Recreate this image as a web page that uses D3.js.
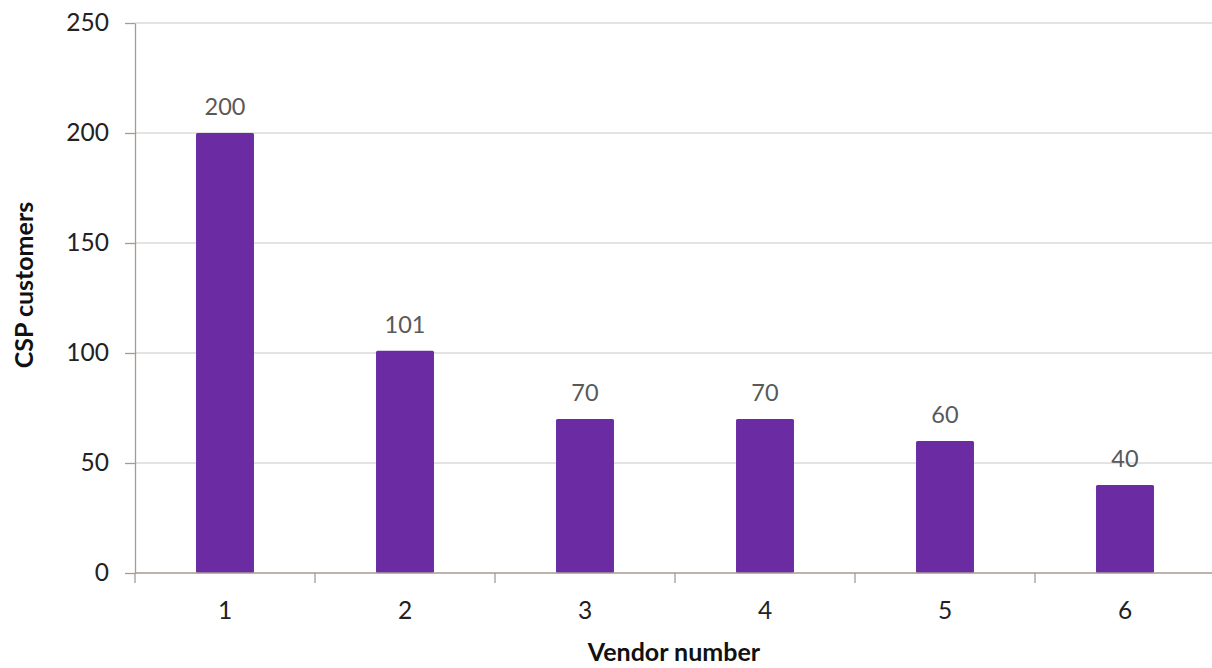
<!DOCTYPE html>
<html>
<head>
<meta charset="utf-8">
<script src="https://cdn.jsdelivr.net/npm/d3@7"></script>
<style>
  html, body { margin: 0; padding: 0; background: #ffffff; }
  svg { display: block; }
  text { font-family: Lato, "Open Sans", "Noto Sans", sans-serif; }
</style>
</head>
<body>
<svg id="chart" width="1212" height="668"></svg>
<script>
// Vendors and their CSP customer counts
const vendors = ["1", "2", "3", "4", "5", "6"];
const customers = [200, 101, 70, 70, 60, 40];
const yTicks = [0, 50, 100, 150, 200, 250];

const width = 1212, height = 668;
const margin = { top: 23, right: -3, bottom: 95, left: 135 };

const svg = d3.select("#chart");
const innerW = width - margin.left - margin.right;
const innerH = height - margin.top - margin.bottom;

const g = svg.append("g").attr("transform", `translate(${margin.left},${margin.top})`);

const x = d3.scaleBand().domain(vendors).range([0, innerW]).paddingInner(0.678).paddingOuter(0.339);
const y = d3.scaleLinear().domain([0, 250]).range([innerH, 0]);

const band = d3.scaleBand().domain(vendors).range([0, innerW]);

// horizontal gridlines
g.append("g").selectAll("line").data(yTicks.filter(d => d > 0)).join("line")
  .attr("x1", 0).attr("x2", innerW)
  .attr("y1", d => y(d)).attr("y2", d => y(d))
  .attr("stroke", "#e3e3e3").attr("stroke-width", 2);

// bars
g.append("g").selectAll("rect").data(vendors).join("rect")
  .attr("x", d => x(d))
  .attr("y", (d, i) => y(customers[i]))
  .attr("width", x.bandwidth())
  .attr("height", (d, i) => y(0) - y(customers[i]))
  .attr("rx", 1.5)
  .attr("fill", "#6b2ca3");

// value labels
g.append("g").selectAll("text").data(vendors).join("text")
  .attr("x", d => x(d) + x.bandwidth() / 2)
  .attr("y", (d, i) => y(customers[i]) - 18)
  .attr("text-anchor", "middle")
  .attr("font-size", 23.5)
  .attr("fill", "#595959")
  .text((d, i) => customers[i]);

const axisColor = "#a69a92";

// y axis
const yAxis = g.append("g")
  .call(d3.axisLeft(y).tickValues(yTicks).tickSize(10).tickPadding(16).tickSizeOuter(0));
yAxis.select(".domain").attr("stroke", axisColor).attr("stroke-width", 1.3);
yAxis.selectAll(".tick line").attr("stroke", axisColor).attr("stroke-width", 1.3);
yAxis.selectAll(".tick text").attr("font-size", 24.5).attr("fill", "#222").attr("font-family", null);

// x axis with tick marks on band boundaries
const xAxisG = g.append("g").attr("transform", `translate(0,${innerH})`);
xAxisG.append("line").attr("x1", 0).attr("x2", innerW).attr("stroke", axisColor).attr("stroke-width", 1.3);
const boundaries = vendors.map(d => band(d)).concat([innerW]);
xAxisG.selectAll("line.tk").data(boundaries).join("line").attr("class", "tk")
  .attr("x1", d => d).attr("x2", d => d).attr("y1", 0).attr("y2", 10)
  .attr("stroke", axisColor).attr("stroke-width", 1.3);
xAxisG.selectAll("text").data(vendors).join("text")
  .attr("x", d => band(d) + band.bandwidth() / 2)
  .attr("y", 46)
  .attr("text-anchor", "middle")
  .attr("font-size", 24.5)
  .attr("fill", "#222")
  .text(d => d);

// axis titles
svg.append("text")
  .attr("x", 674).attr("y", 661)
  .attr("text-anchor", "middle")
  .attr("font-size", 25).attr("font-weight", "bold").attr("fill", "#111")
  .text("Vendor number");

svg.append("text")
  .attr("transform", "translate(33,285) rotate(-90)")
  .attr("text-anchor", "middle")
  .attr("font-size", 25).attr("font-weight", "bold").attr("fill", "#111")
  .text("CSP customers");
</script>
</body>
</html>
